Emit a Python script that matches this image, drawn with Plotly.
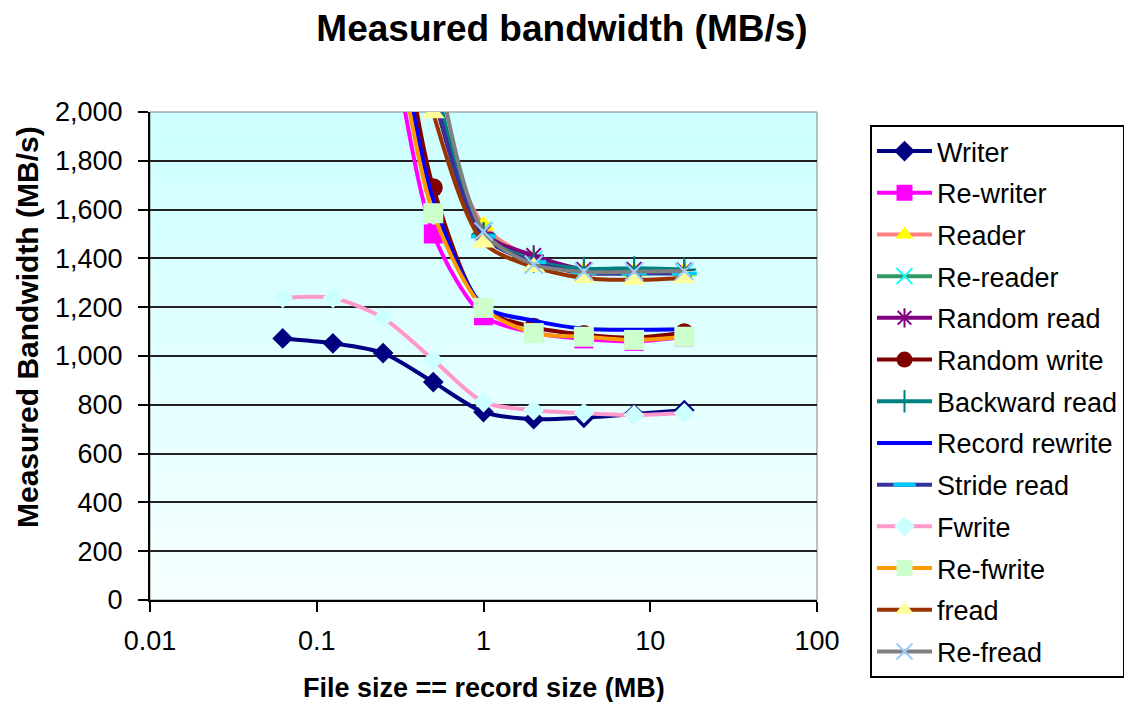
import plotly.graph_objects as go

# ---- data ----
file_size_mb = [0.0625, 0.125, 0.25, 0.5, 1, 2, 4, 8, 16]

writer        = [1072, 1052, 1012, 893, 770, 741, 747, 762, 778]
re_writer     = [3300, 3100, 2450, 1500, 1165, 1095, 1070, 1060, 1078]
reader        = [4300, 4100, 3300, 2070, 1535, 1400, 1350, 1345, 1345]
re_reader     = [4400, 4200, 3400, 2100, 1515, 1395, 1348, 1350, 1343]
random_read   = [4500, 4300, 3500, 2080, 1505, 1412, 1355, 1355, 1352]
random_write  = [3600, 3400, 2750, 1690, 1195, 1118, 1088, 1075, 1095]
backward_read = [4600, 4400, 3600, 2160, 1500, 1390, 1358, 1360, 1355]
record_rewrite= [3500, 3300, 2650, 1640, 1205, 1145, 1112, 1108, 1110]
stride_read   = [4350, 4150, 3350, 2090, 1490, 1385, 1340, 1338, 1338]
fwrite        = [1238, 1238, 1156, 984, 811, 778, 766, 758, 766]
re_fwrite     = [3400, 3200, 2550, 1585, 1197, 1094, 1079, 1066, 1079]
fread         = [4000, 3800, 3000, 1995, 1465, 1365, 1320, 1312, 1320]
re_fread      = [4800, 4600, 3800, 2270, 1510, 1375, 1345, 1345, 1348]

series_names = ["Writer", "Re-writer", "Reader", "Re-reader", "Random read",
                "Random write", "Backward read", "Record rewrite", "Stride read",
                "Fwrite", "Re-fwrite", "fread", "Re-fread"]
series_values = [writer, re_writer, reader, re_reader, random_read, random_write,
                 backward_read, record_rewrite, stride_read, fwrite, re_fwrite,
                 fread, re_fread]

x_tick_vals = [0.01, 0.1, 1, 10, 100]
x_tick_text = ["0.01", "0.1", "1", "10", "100"]

# ---- styles ----
styles = [
    dict(line="#000080", symbol="diamond", size=16, mcolor="#000080", mline=None),
    dict(line="#FF00FF", symbol="square", size=19, mcolor="#FF00FF", mline=None),
    dict(line="#FF8080", symbol="triangle-up", size=20, mcolor="#FFFF00", mline=None),
    dict(line="#339966", symbol="x-thin-open", size=17, mcolor="#00FFFF", mline=2),
    dict(line="#800080", symbol="asterisk-open", size=17, mcolor="#800080", mline=2),
    dict(line="#800000", symbol="circle", size=19, mcolor="#800000", mline=None),
    dict(line="#008080", symbol="cross-thin-open", size=17, mcolor="#008080", mline=2),
    dict(line="#0000FF", symbol=None, size=0, mcolor=None, mline=None),
    dict(line="#333399", symbol="line-ew-open", size=18, mcolor="#00CCFF", mline=4),
    dict(line="#FF99CC", symbol="diamond", size=16, mcolor="#CCFFFF", mline=None),
    dict(line="#FF9900", symbol="square", size=20, mcolor="#CCFFCC", mline=None),
    dict(line="#993300", symbol="triangle-up", size=20, mcolor="#FFFF99", mline=None),
    dict(line="#808080", symbol="x-thin-open", size=18, mcolor="#99CCFF", mline=2),
]

fig = go.Figure()
for i, (name, vals, st) in enumerate(zip(series_names, series_values, styles)):
    if st["symbol"] is None:
        mode = "lines"
        marker = None
    else:
        mode = "lines+markers"
        if st["mline"]:
            marker = dict(symbol=st["symbol"], size=st["size"],
                          color=st["mcolor"],
                          line=dict(color=st["mcolor"], width=st["mline"]))
        else:
            marker = dict(symbol=st["symbol"], size=st["size"],
                          color=st["mcolor"], line=dict(width=0))
    fig.add_trace(go.Scatter(
        x=file_size_mb, y=vals, name=name, mode=mode,
        line=dict(color=st["line"], width=4, shape="spline", smoothing=0.8),
        marker=marker, legendgroup="g%d" % i,
    ))

# gradient plot background
shapes = []
n_bands = 60
top = (204, 255, 255)
bot = (246, 255, 255)
for k in range(n_bands):
    t = (k + 0.5) / n_bands
    c = tuple(round(top[j] + (bot[j] - top[j]) * t) for j in range(3))
    y1 = 1 - k / n_bands
    y0 = 1 - (k + 1) / n_bands
    shapes.append(dict(type="rect", xref="paper", yref="paper", x0=0, x1=1,
                       y0=y0 - 0.001, y1=y1, fillcolor="rgb(%d,%d,%d)" % c,
                       line=dict(width=0), layer="below"))
shapes.append(dict(type="rect", xref="paper", yref="paper", x0=0, x1=1, y0=0, y1=1,
                   line=dict(color="#808080", width=1), fillcolor="rgba(0,0,0,0)",
                   layer="below"))

font_family = "Liberation Sans, Arial, sans-serif"

fig.update_layout(
    width=1124, height=702,
    margin=dict(l=150, r=307, t=112, b=102, autoexpand=False),
    paper_bgcolor="white", plot_bgcolor="white",
    font=dict(family=font_family, color="black", size=27),
    title=dict(text="Measured bandwidth (MB/s)", x=0.5, xref="container",
               xanchor="center", y=1 - 28 / 702, yref="container", yanchor="middle",
               font=dict(size=37, weight="bold", family=font_family, color="black")),
    shapes=shapes,
    showlegend=True,
    legend=dict(x=(870 - 150) / 667, xanchor="left", y=1 - 125 / 702, yanchor="top",
                xref="paper", yref="container", maxheight=600,
                bgcolor="white", bordercolor="black", borderwidth=2,
                font=dict(size=27, family=font_family, color="black"),
                itemwidth=55, traceorder="grouped", tracegroupgap=3.6),
    annotations=[
        dict(text="Measured Bandwidth (MB/s)", textangle=-90, xref="paper", yref="paper",
             x=(27 - 150) / 667, y=(600 - 327) / 488, xanchor="center", yanchor="middle",
             showarrow=False, font=dict(size=30, weight="bold", family=font_family, color="black")),
        dict(text="File size == record size (MB)", xref="paper", yref="paper",
             x=0.5, y=(600 - 688) / 488, xanchor="center", yanchor="middle",
             showarrow=False, font=dict(size=27, weight="bold", family=font_family, color="black")),
    ],
)

fig.update_xaxes(type="log", range=[-2, 2], tickvals=x_tick_vals, ticktext=x_tick_text,
                 showgrid=False, zeroline=False, showline=True, linecolor="black", linewidth=2,
                 ticks="outside", ticklen=10, tickwidth=2, tickcolor="black",
                 tickfont=dict(size=27), ticklabelstandoff=6)
fig.update_yaxes(range=[0, 2000], dtick=200, tickformat=",d",
                 showgrid=True, gridcolor="#222222", gridwidth=2, zeroline=False,
                 showline=True, linecolor="black", linewidth=2,
                 ticks="outside", ticklen=10, tickwidth=2, tickcolor="black",
                 tickfont=dict(size=27), ticklabelstandoff=10)

fig.write_html("out.html")
